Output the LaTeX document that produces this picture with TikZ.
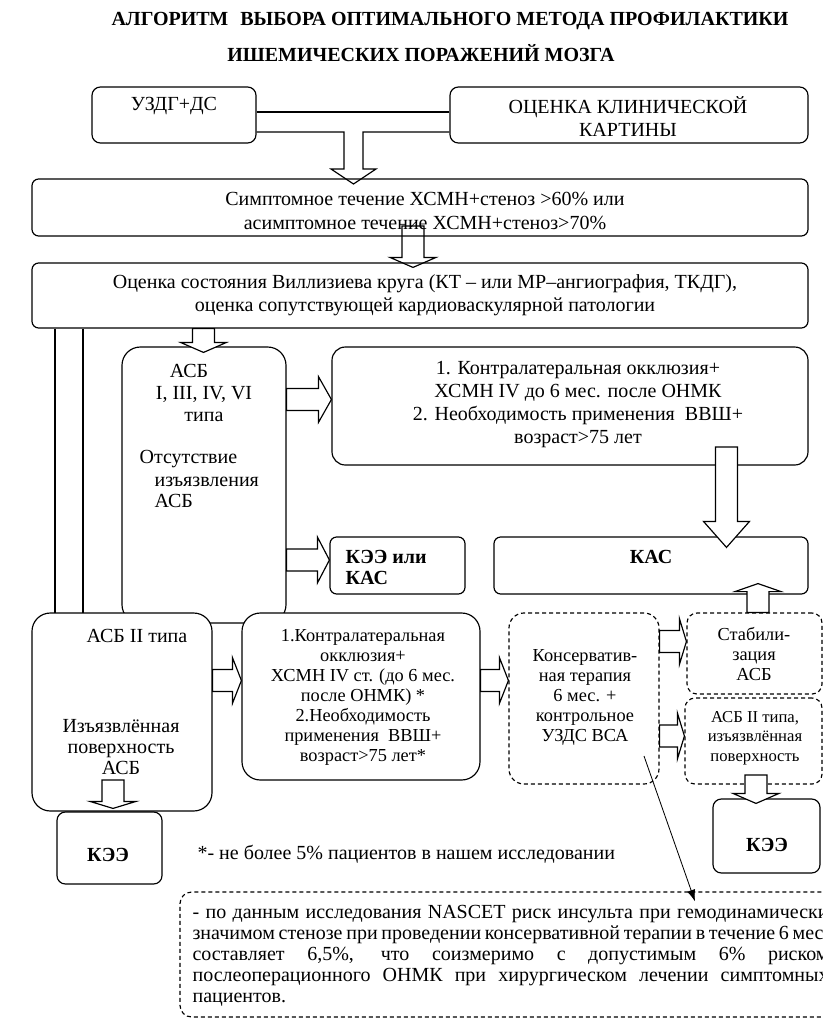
\documentclass[tikz,border=0pt]{standalone}
\usepackage{fontspec}
\setmainfont{Liberation Serif}
\usetikzlibrary{calc,fit,arrows.meta}

\newcommand{\twelve}{\fontsize{12}{14.4}\selectfont}
\newcommand{\eleven}{\fontsize{11}{12}\selectfont}
\newcommand{\normspace}{\spaceskip=0pt\relax\xspaceskip=0pt\relax}

\begin{document}
\begin{tikzpicture}[x=0.6pt, y=-0.6pt, line width=0.7pt,
        box/.style={draw, fill=white, inner sep=0pt, rounded corners=#1},
        box/.default=5pt,
        dbox/.style={box=#1, dash pattern=on 2.4pt off 1.8pt},
        dbox/.default=6pt,
        lbl/.style={inner sep=0pt, font=\twelve, align=center,
            execute at begin node=\normspace},
        fat/.style={to path={let \p1=(\tikztostart), \p2=(\tikztotarget),
            \n1={atan2(\y2-\y1,\x2-\x1)}, \n2={veclen(\x2-\x1,\y2-\y1)-#1*0.6pt} in
            ($(\p1)+(\n1+90:6.6pt)$) -- ($(\p1)+(\n1:\n2)+(\n1+90:6.6pt)$)
            -- ($(\p1)+(\n1:\n2)+(\n1+90:13.8pt)$) -- (\p2)
            -- ($(\p1)+(\n1:\n2)+(\n1-90:13.8pt)$) -- ($(\p1)+(\n1:\n2)+(\n1-90:6.6pt)$)
            -- ($(\p1)+(\n1-90:6.6pt)$) -- cycle}},
        fat/.default=10]
    \useasboundingbox (0,0) rectangle (823,1021);
    \clip (0,0) rectangle (823,1021);

    % title
    \node[lbl, font=\bfseries\twelve] (ttl1) at (450,21) {АЛГОРИТМ\hspace{0.6em}ВЫБОРА ОПТИМАЛЬНОГО МЕТОДА ПРОФИЛАКТИКИ};
    \node[lbl, font=\bfseries\twelve] (ttl2) at (421,53) {ИШЕМИЧЕСКИХ ПОРАЖЕНИЙ МОЗГА};

    % boxes
    \node[box, fit={(92,87) (256,143)}] (uzdg) {};
    \node[box, fit={(450,87) (808,143)}] (klin) {};
    \node[box=4pt, fit={(32,179) (808,236)}] (sympt) {};
    \node[box=4pt, fit={(32,263) (808,328)}] (ocen) {};
    \draw (ocen.south -| 55,0) -- (55,613);
    \draw (ocen.south -| 83,0) -- (83,613);
    \node[box=11pt, fit={(122,347) (286,623)}] (asbone) {};
    \node[box=8pt, fit={(332,347) (808,465)}] (boxone) {};
    \node[box=4pt, fit={(330,537) (465,594)}] (keekas) {};
    \node[box=4pt, fit={(494,537) (808,594)}] (kas) {};
    \node[box=11pt, fit={(32,613) (212,811)}] (asbtwo) {};
    \node[box=11pt, fit={(242,613) (480,780)}] (boxtwo) {};
    \node[dbox=9pt, fit={(509,613) (659,784)}] (cons) {};
    \node[dbox, fit={(687,613) (822,694)}] (stab) {};
    \node[dbox, fit={(685,698) (822,784)}] (asbsmall) {};
    \node[box, fit={(57,812) (162,884)}] (keeone) {};
    \node[box, fit={(713,799) (820,873)}] (keetwo) {};
    \node[dbox=7pt, fit={(180,892) (840,1017)}] (note) {};

    % connectors
    \draw (uzdg.east |- 0,112) -- (klin.west |- 0,112);
    \draw (uzdg.east |- 0,132) -- (344,132) -- (344,169) -- (331,169) -- (353.5,184)
        -- (376,169) -- (363,169) -- (363,132) -- (klin.west |- 0,132);
    \coordinate (s2) at (413,226);
    \draw (s2) to[fat=10] ($(ocen.north -| s2)+(0,5)$);
    \draw[fill=white] (ocen.south -| 203.5,0) to[fat=10] ($(asbone.north -| 203.5,0)+(0,6)$);
    \draw[fill=white] (asbone.east |- 0,399.5) to[fat=13] (boxone.west |- 0,399.5);
    \draw[fill=white] (asbone.east |- 0,560) to[fat=12] (keekas.west |- 0,560);
    \coordinate (s6) at (726.5,447);
    \draw[fill=white] (s6) to[fat=26] ($(kas.north -| s6)+(0,11)$);
    \draw[fill=white] (stab.north -| 758,0) to[fat=8] ($(kas.south -| 758,0)+(0,-11)$);
    \draw[fill=white] (asbtwo.east |- 0,680.5) to[fat=9] (boxtwo.west |- 0,680.5);
    \draw[fill=white] (boxtwo.east |- 0,680.5) to[fat=9] (cons.west |- 0,680.5);
    \draw[fill=white] (cons.east |- 0,641.5) to[fat=7] (stab.west |- 0,641.5);
    \draw[fill=white] (cons.east |- 0,736) to[fat=7] (asbsmall.west |- 0,736);
    \coordinate (s12) at (113,780);
    \draw[fill=white] (s12) to[fat=7] ($(keeone.north -| s12)+(0,-3)$);
    \coordinate (s13) at (756,775);
    \draw[fill=white] (s13) to[fat=10] ($(keetwo.north -| s13)+(0,5)$);
    \coordinate (s14) at (644,756);
    \draw[line width=0.5pt, -{Latex[length=7pt,width=5pt]}] (s14) -- ($(note.north -| 695,0)+(0,10)$);

    % texts
    \node[lbl] (uzdgt) at (174,106) {УЗДГ+ДС};
    \node[lbl, font=\fontsize{12}{13.8}\selectfont] (klint) at (628,117) {ОЦЕНКА КЛИНИЧЕСКОЙ\\КАРТИНЫ};
    \node[lbl] (symptt) at (425,210.5) {Симптомное течение ХСМН+стеноз >60\% или\\асимптомное течение ХСМН+стеноз>70\%};
    \node[lbl, font=\fontsize{12}{13.8}\selectfont] (ocent) at (425,295) {Оценка состояния Виллизиева круга (КТ – или МР–ангиография, ТКДГ),\\оценка сопутствующей кардиоваскулярной патологии};
    \node[lbl] (asbt1) at (189,371) {АСБ};
    \node[lbl, font=\fontsize{12}{13.2}\selectfont] (asbt2) at (204,404) {I, III, IV, VI\\типа};
    \node[lbl, anchor=west] (asbt3) at (139,459) {Отсутствие};
    \node[lbl, anchor=west, align=left, font=\fontsize{12}{12.6}\selectfont] (asbt4) at (154,492.5) {изъязвления\\АСБ};
    \node[lbl, font=\fontsize{12}{13.8}\selectfont] (boxonet) at (578,405) {1. Контралатеральная окклюзия+\\ХСМН IV до 6 мес. после ОНМК\\2. Необходимость применения\ \ ВВШ+\\возраст>75 лет};
    \node[lbl, anchor=west, align=left, font=\bfseries\fontsize{12}{12.6}\selectfont] (keekast) at (345,567.5) {КЭЭ или\\КАС};
    \node[lbl, font=\bfseries\twelve] (kast) at (651,557) {КАС};
    \node[lbl] (asbt5) at (137,636) {АСБ II типа};
    \node[lbl, font=\fontsize{12}{12.6}\selectfont] (asbt6) at (121,747) {Изъязвлённая\\поверхность\\АСБ};
    \node[lbl, font=\eleven] (boxtwot) at (363,697) {1.Контралатеральная\\окклюзия+\\ХСМН IV ст. (до 6 мес.\\после ОНМК) *\\2.Необходимость\\применения\ \ ВВШ+\\возраст>75 лет*};
    \node[lbl, font=\eleven] (const) at (585,697.5) {Консерватив-\\ная терапия\\6 мес. +\\контрольное\\УЗДС ВСА};
    \node[lbl, font=\eleven] (stabt) at (754,654) {Стабили-\\зация\\АСБ};
    \node[lbl, font=\fontsize{10}{11.7}\selectfont] (asbsmallt) at (755,738) {АСБ II типа,\\изъязвлённая\\поверхность};
    \node[lbl, font=\bfseries\twelve] (kee1t) at (108,855) {КЭЭ};
    \node[lbl, font=\bfseries\twelve] (kee2t) at (767,845) {КЭЭ};
    \node[lbl, anchor=west] (foot) at (197,854) {*- не более 5\% пациентов в нашем исследовании};
    \node[lbl, anchor=west, align=left, text width=381.6pt, font=\fontsize{12}{12.6}\selectfont] (notet) at (192,955.5)
        {\makebox[381.6pt][s]{- по данным исследования NASCET риск инсульта при гемодинамически}\\
        \makebox[381.6pt][s]{значимом стенозе при проведении консервативной терапии в течение 6 мес.}\\
        \makebox[381.6pt][s]{составляет 6,5\%, что соизмеримо с допустимым 6\% риском}\\
        \makebox[381.6pt][s]{послеоперационного ОНМК при хирургическом лечении симптомных}\\
        пациентов.};
\end{tikzpicture}
\end{document}
